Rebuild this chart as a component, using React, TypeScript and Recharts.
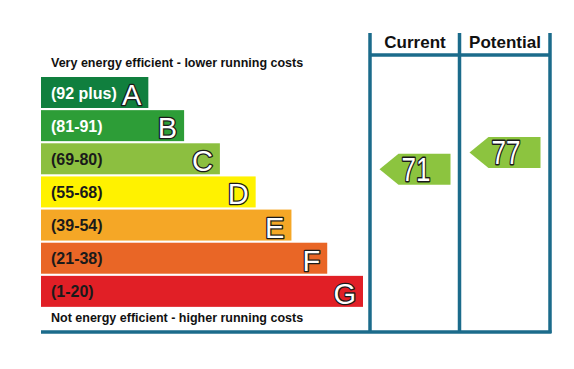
import React from 'react';
import { BarChart, Bar, XAxis, YAxis, ScatterChart, Scatter } from 'recharts';

// EPC bands, top (most efficient) to bottom
const BANDS = ['A', 'B', 'C', 'D', 'E', 'F', 'G'];
const RANGES = ['(92 plus)', '(81-91)', '(69-80)', '(55-68)', '(39-54)', '(21-38)', '(1-20)'];
const BAR_LENGTHS = [3, 4, 5, 6, 7, 8, 9];
const BAND_COLORS = ['#107f3e', '#2d9d37', '#8cbf40', '#fff200', '#f5a726', '#e96626', '#e11f26'];
const RANGE_TEXT = ['#ffffff', '#ffffff', '#1a1a1a', '#1a1a1a', '#1a1a1a', '#1a1a1a', '#1a1a1a'];

// rating columns
const COLUMNS = ['Current', 'Potential'];
const RATINGS = [71, 77];

const TOP_NOTE = 'Very energy efficient - lower running costs';
const BOTTOM_NOTE = 'Not energy efficient - higher running costs';

const FONT = '"Liberation Sans", Arial, sans-serif';
const FRAME = '#1b6b8b';
const ARROW = '#8cc43f';

const bandData = BANDS.map((b, i) => ({
  band: b,
  range: RANGES[i],
  len: BAR_LENGTHS[i],
  color: BAND_COLORS[i],
  textColor: RANGE_TEXT[i],
}));

const ratingData = COLUMNS.map((c, i) => ({ col: c, x: i, score: RATINGS[i] }));

const BandShape = (props: any) => {
  const { x, y, width, height, payload } = props;
  return (
    <g>
      <rect x={x} y={y} width={width} height={height} fill={payload.color} />
      <text
        x={x + 10}
        y={y + height / 2 + 6}
        fill={payload.textColor}
        fontSize={16}
        fontWeight="bold"
        fontFamily={FONT}
      >
        {payload.range}
      </text>
      <text
        x={x + width - 7}
        y={y + height - 3}
        textAnchor="end"
        fontSize={29}
        fontFamily={FONT}
        fill="#ffffff"
        stroke="#1a1a1a"
        strokeWidth={2.6}
        strokeLinejoin="round"
        paintOrder="stroke"
      >
        {payload.band}
      </text>
    </g>
  );
};

const ArrowShape = (props: any) => {
  const { cx, cy, payload } = props;
  const half = 15.5;
  const left = cx - 35.5;
  const right = cx + 35.5;
  const neck = left + 19;
  const pts = `${left},${cy} ${neck},${cy - half} ${right},${cy - half} ${right},${cy + half} ${neck},${cy + half}`;
  return (
    <g>
      <polygon points={pts} fill={ARROW} />
      <text
        transform={`translate(${cx + 1} ${cy + 12}) scale(1 1.3)`}
        textAnchor="middle"
        fontSize={26}
        fontFamily={FONT}
        fill="#ffffff"
        stroke="#1a1a1a"
        strokeWidth={2.2}
        strokeLinejoin="round"
        paintOrder="stroke"
      >
        {payload.score}
      </text>
    </g>
  );
};

const App: React.FC = () => {
  return (
    <div style={{ position: 'absolute', left: 0, top: 0, width: 574, height: 369, background: '#fff' }}>
      <div style={{ position: 'absolute', left: 0, top: 0 }}>
        <BarChart
          width={574}
          height={369}
          data={bandData}
          layout="vertical"
          margin={{ top: 76, right: 211, bottom: 61, left: 41 }}
          barCategoryGap={1}
        >
          <XAxis type="number" domain={[0, 9]} hide />
          <YAxis type="category" dataKey="band" hide />
          <Bar dataKey="len" shape={BandShape} isAnimationActive={false} />
        </BarChart>
      </div>

      <svg width={574} height={369} style={{ position: 'absolute', left: 0, top: 0 }}>
        <g stroke={FRAME} strokeWidth={3.5}>
          <line x1={370} y1={33} x2={370} y2={333} />
          <line x1={459.5} y1={33} x2={459.5} y2={333} />
          <line x1={550} y1={33} x2={550} y2={333} />
          <line x1={370} y1={55} x2={550} y2={55} />
          <line x1={41} y1={332} x2={551.5} y2={332} />
        </g>
        {COLUMNS.map((c, i) => (
          <text
            key={c}
            x={415 + i * 90}
            y={48}
            textAnchor="middle"
            fontSize={17}
            fontWeight="bold"
            fontFamily={FONT}
            fill="#111"
          >
            {c}
          </text>
        ))}
        <text x={51} y={67} fontSize={12.5} fontWeight="bold" fontFamily={FONT} fill="#111">
          {TOP_NOTE}
        </text>
        <text x={51} y={322} fontSize={12.5} fontWeight="bold" fontFamily={FONT} fill="#111">
          {BOTTOM_NOTE}
        </text>
      </svg>

      <div style={{ position: 'absolute', left: 0, top: 0 }}>
        <ScatterChart width={574} height={369} margin={{ top: 76, right: 24, bottom: 61, left: 370 }}>
          <XAxis type="number" dataKey="x" domain={[-0.5, 1.5]} hide />
          <YAxis type="number" dataKey="score" domain={[22, 104]} hide />
          <Scatter data={ratingData} shape={ArrowShape} isAnimationActive={false} />
        </ScatterChart>
      </div>
    </div>
  );
};

export default App;
